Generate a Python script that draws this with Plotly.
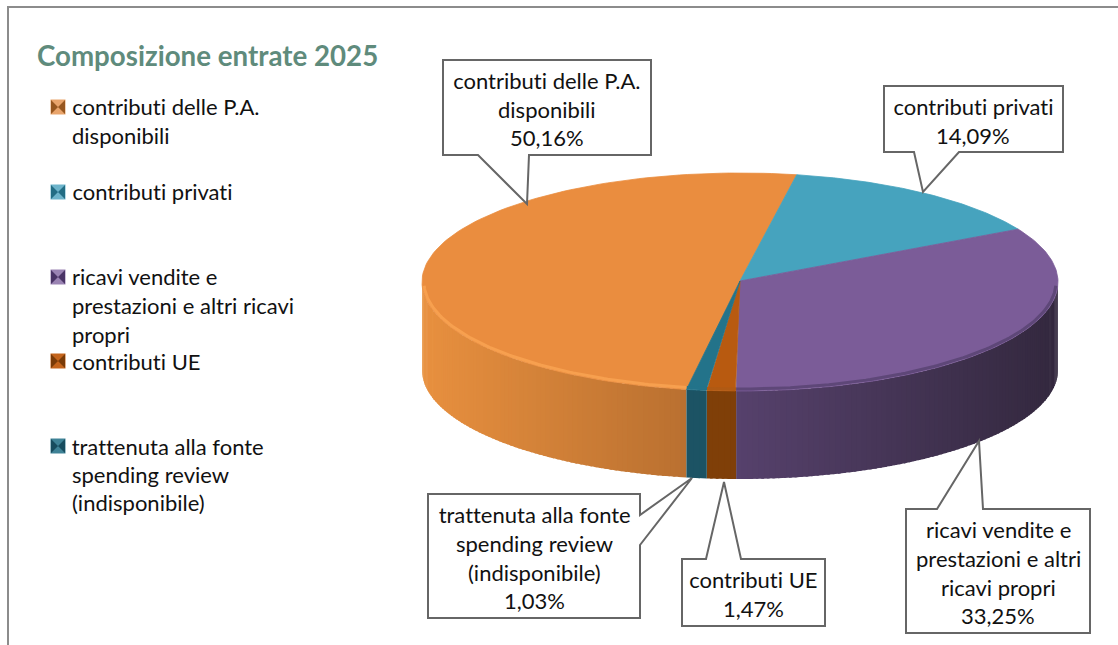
import numpy as np
import plotly.graph_objects as go

# ---- data ----
CATEGORIES = ["contributi delle P.A. disponibili", "contributi privati",
              "ricavi vendite e prestazioni e altri ricavi propri",
              "contributi UE", "trattenuta alla fonte spending review (indisponibile)"]
VALUES = [50.16, 14.09, 33.25, 1.47, 1.03]
TITLE = "Composizione entrate 2025"

LEGEND_LINES = [["contributi delle P.A.", "disponibili"], ["contributi privati"],
                ["ricavi vendite e", "prestazioni e altri ricavi", "propri"],
                ["contributi UE"], ["trattenuta alla fonte", "spending review", "(indisponibile)"]]
CALLOUT_LINES = [["contributi delle P.A.", "disponibili"], ["contributi privati"],
                 ["ricavi vendite e", "prestazioni e altri", "ricavi propri"],
                 ["contributi UE"], ["trattenuta alla fonte", "spending review", "(indisponibile)"]]

# ---- style / layout ----
FONT = "Lato"
TOP = ["#EA8D3F", "#46A3BE", "#7B5C98", "#B85A10", "#23738A"]
SIDE_L = ["#E8903F", "#3E8FA8", "#56416C", "#7F3F08", "#1C5364"]   # colour at left end of the wall
SIDE_R = ["#B97030", "#3E8FA8", "#33283E", "#7F3F08", "#1C5364"]   # colour at right end of the wall
RIM = ["#F7A04F", "#46A3BE", "#5E4778", "#B05A14", "#23738A"]
SW_LIGHT = ["#E9A46B", "#6DB4CB", "#9A83B3", "#C4641B", "#3E8296"]
SW_DARK = ["#97571F", "#226D84", "#4A3466", "#7A3B07", "#174C5E"]
CX, CY, A, B, DEPTH = 740, 282, 318, 109, 88
START = 189.7   # clockwise from 12 o'clock, degrees

LEG_SW_Y = [107, 192, 277, 361, 446]
LEG_TEXT_Y = [[106, 135], [191], [276, 305, 334], [361], [446, 474, 502]]
CALL_PATH = ["M443,60 H651 V155 H529 L527,204 L478,155 H443 Z",
             "M884,86 H1063 V152 H959 L923,192 L914,152 H884 Z",
             "M906,509 H937 L979,441 L983,509 H1090 V633 H906 Z",
             "M682,559 H706 L724,482 L741,559 H825 V626 H682 Z",
             "M428,494 H640 V515 L692,478 L640,545 V618 H428 Z"]
CALL_X = [547, 973, 998, 753, 534]
CALL_Y = [[80, 109, 137], [106, 135], [529, 558, 587, 615], [579, 608], [514, 543, 572, 600]]


def mix(c1, c2, f):
    a = [int(c1[i:i + 2], 16) for i in (1, 3, 5)]
    b = [int(c2[i:i + 2], 16) for i in (1, 3, 5)]
    return "#%02x%02x%02x" % tuple(int(round(p + (q - p) * f)) for p, q in zip(a, b))


def ex(t):
    return CX + A * np.sin(np.radians(t))


def ey(t, dy=0):
    return CY - B * np.cos(np.radians(t)) + dy


fig = go.Figure()
edges = START + np.concatenate([[0], np.cumsum(VALUES)]) * 3.6


def add_poly(xs, ys, color, w=0.0):
    fig.add_trace(go.Scatter(x=xs, y=ys, mode="lines", fill="toself", fillcolor=color,
                             line=dict(color=color, width=w), hoverinfo="skip", showlegend=False))


# walls: only the front half (90..270 degrees) is visible
for i in range(len(VALUES)):
    t0, t1 = edges[i], edges[i + 1]
    for k in (-360, 0, 360):
        a0, a1 = max(t0 + k, 90), min(t1 + k, 270)
        if a1 <= a0:
            continue
        n = max(1, int((a1 - a0) / 1.0))
        cuts = np.linspace(a0, a1, n + 1)
        xa, xb = ex(cuts).min(), ex(cuts).max()
        for j in range(n):
            arc = np.linspace(cuts[j], min(cuts[j + 1] + 0.5, a1), 4)
            xs = np.concatenate([ex(arc), ex(arc)[::-1]])
            ys = np.concatenate([ey(arc), ey(arc, DEPTH)[::-1]])
            f = (ex(arc).mean() - xa) / max(xb - xa, 1)
            add_poly(xs, ys, mix(SIDE_L[i], SIDE_R[i], f))

# top faces
for i in range(len(VALUES)):
    arc = np.linspace(edges[i], edges[i + 1], 120)
    add_poly(np.r_[CX, ex(arc), CX], np.r_[CY - 1, ey(arc), CY - 1], TOP[i], 0.8)

# bevel highlight along the front rim
for i in range(len(VALUES)):
    for k in (-360, 0, 360):
        a0, a1 = max(edges[i] + k, 92), min(edges[i + 1] + k, 268)
        if a1 <= a0:
            continue
        arc = np.linspace(a0, a1, 100)
        fig.add_trace(go.Scatter(x=CX + (A - 2) * np.sin(np.radians(arc)),
                                 y=CY - (B - 2) * np.cos(np.radians(arc)), mode="lines",
                                 line=dict(color=RIM[i], width=3), hoverinfo="skip", showlegend=False))

# legend swatches
fig.add_trace(go.Scatter(x=[58] * 5, y=LEG_SW_Y, mode="markers", hoverinfo="skip", showlegend=False,
                         marker=dict(symbol="square", size=15, color=SW_LIGHT, line=dict(width=0))))
fig.add_trace(go.Scatter(x=[58] * 5, y=LEG_SW_Y, mode="markers", hoverinfo="skip", showlegend=False,
                         marker=dict(symbol="bowtie", size=14, color=SW_DARK, line=dict(width=0))))

ann = []


def text(x, y, s, anchor="left", size=22, color="#111111", bold=False):
    ann.append(dict(x=x, y=y, xref="x", yref="y", text=f"<b>{s}</b>" if bold else s, showarrow=False,
                    xanchor=anchor, yanchor="middle", font=dict(family=FONT, size=size, color=color)))


text(35, 55, TITLE, size=27.7, color="#5F8B7C", bold=True)
for lines, ys in zip(LEGEND_LINES, LEG_TEXT_Y):
    for s, y in zip(lines, ys):
        text(70, y, s)
for i in range(5):
    lines = CALLOUT_LINES[i] + [f"{VALUES[i]:.2f}".replace(".", ",") + "%"]
    for s, y in zip(lines, CALL_Y[i]):
        text(CALL_X[i], y, s, anchor="center")

shapes = [dict(type="path", xref="x", yref="y", path=p, fillcolor="white", line=dict(color="#666666", width=2))
          for p in CALL_PATH]
shapes.append(dict(type="path", xref="x", yref="y", path="M8,645 V7 H1118", line=dict(color="#8C8C8C", width=2)))

fig.update_layout(width=1118, height=645, margin=dict(l=0, r=0, t=0, b=0), paper_bgcolor="white",
                  plot_bgcolor="white", showlegend=False, shapes=shapes, annotations=ann,
                  xaxis=dict(range=[0, 1118], visible=False, fixedrange=True),
                  yaxis=dict(range=[645, 0], visible=False, fixedrange=True))
POST = """
document.body.style.margin='0';document.body.style.overflow='hidden';
var st=document.createElement('style');
st.textContent='svg text{font-variant-ligatures:none !important;font-feature-settings:"liga" 0,"clig" 0,"calt" 0 !important;}';
document.head.appendChild(st);
"""
fig.write_html("out.html", config=dict(displayModeBar=False), post_script=POST)
